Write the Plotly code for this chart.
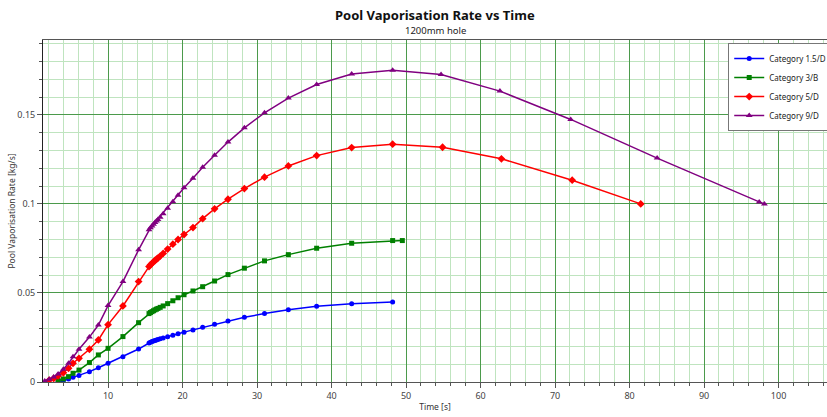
import plotly.graph_objects as go

# ---- data ----
t_blue = [3.3, 4.0, 4.7, 5.3, 6.1, 7.5, 8.7, 10.0, 12.0, 14.1, 15.5, 15.7, 15.9, 16.1, 16.3, 16.5, 16.7,
          17.0, 17.4, 18.0, 18.7, 19.4, 20.2, 21.4, 22.7, 24.3, 26.1, 28.3, 31.0, 34.2, 38.0, 42.7, 48.2]
v_blue = [0.0002, 0.0008, 0.0017, 0.0026, 0.0037, 0.0058, 0.0080, 0.0105, 0.0142, 0.0185, 0.0219, 0.0223,
          0.0227, 0.0230, 0.0233, 0.0236, 0.0239, 0.0243, 0.0247, 0.0254, 0.0263, 0.0271, 0.0280, 0.0292,
          0.0307, 0.0324, 0.0343, 0.0363, 0.0384, 0.0406, 0.0425, 0.0440, 0.0449]

t_green = [3.3, 4.0, 4.7, 5.3, 6.1, 7.5, 8.7, 10.0, 12.0, 14.1, 15.5, 15.7, 15.9, 16.1, 16.3, 16.5, 16.7,
           17.0, 17.4, 18.0, 18.7, 19.4, 20.2, 21.4, 22.7, 24.3, 26.1, 28.3, 31.0, 34.2, 38.0, 42.7, 48.2, 49.5]
v_green = [0.0008, 0.0017, 0.0030, 0.0049, 0.0067, 0.0109, 0.0152, 0.0189, 0.0255, 0.0333, 0.0384, 0.0390,
           0.0395, 0.0400, 0.0405, 0.0409, 0.0413, 0.0419, 0.0427, 0.0440, 0.0456, 0.0473, 0.0490, 0.0511,
           0.0535, 0.0567, 0.0603, 0.0639, 0.0680, 0.0715, 0.0751, 0.0779, 0.0794, 0.0794]

t_red = [2.1, 2.7, 3.3, 4.0, 4.7, 5.3, 6.1, 7.5, 8.7, 10.0, 12.0, 14.1, 15.5, 15.7, 15.9, 16.1, 16.3, 16.5,
         16.7, 17.0, 17.4, 18.0, 18.7, 19.4, 20.2, 21.4, 22.7, 24.3, 26.1, 28.3, 31.0, 34.2, 38.0, 42.7,
         48.2, 54.9, 62.8, 72.3, 81.5]
v_red = [0.0010, 0.0020, 0.0034, 0.0052, 0.0077, 0.0105, 0.0133, 0.0184, 0.0236, 0.0322, 0.0427, 0.0564,
         0.0648, 0.0658, 0.0666, 0.0674, 0.0682, 0.0689, 0.0696, 0.0707, 0.0722, 0.0746, 0.0774, 0.0800,
         0.0828, 0.0867, 0.0917, 0.0972, 0.1026, 0.1086, 0.1150, 0.1213, 0.1271, 0.1316, 0.1335, 0.1318,
         0.1253, 0.1133, 0.1000]

t_purple = [1.5, 2.1, 2.7, 3.3, 4.0, 4.7, 5.3, 6.1, 7.5, 8.7, 10.0, 12.0, 14.1, 15.5, 15.7, 15.9, 16.1,
            16.3, 16.5, 16.7, 17.0, 17.4, 18.0, 18.7, 19.4, 20.2, 21.4, 22.7, 24.3, 26.1, 28.3, 31.0, 34.2,
            38.0, 42.7, 48.2, 54.7, 62.6, 72.1, 83.7, 97.4, 98.1]
v_purple = [0.0006, 0.0015, 0.0028, 0.0045, 0.0071, 0.0105, 0.0142, 0.0184, 0.0252, 0.0320, 0.0429, 0.0564,
            0.0742, 0.0855, 0.0866, 0.0876, 0.0886, 0.0895, 0.0904, 0.0912, 0.0925, 0.0945, 0.0975, 0.1012,
            0.1048, 0.1090, 0.1144, 0.1206, 0.1273, 0.1347, 0.1427, 0.1511, 0.1594, 0.1670, 0.1729, 0.1750,
            0.1726, 0.1633, 0.1474, 0.1257, 0.1011, 0.1000]

series = [
    ("Category 1.5/D", t_blue, v_blue, "#0000ff", "circle", 5),
    ("Category 3/B", t_green, v_green, "#008000", "square", 5),
    ("Category 5/D", t_red, v_red, "#ff0000", "diamond", 6),
    ("Category 9/D", t_purple, v_purple, "#800080", "triangle-up", 6),
]

x_range = [1.27, 106.5]
y_range = [0, 0.192]

FONT = "Noto Sans"

fig = go.Figure()
for name, t, v, col, sym, ms in series:
    fig.add_trace(go.Scatter(
        x=t, y=v, name=name, mode="lines+markers",
        line=dict(color=col, width=1.5),
        marker=dict(symbol=sym, size=ms, color=col),
    ))

major_grid = "#4b9a4b"
minor_grid = "#bfe4bf"

fig.update_layout(
    width=827, height=417,
    margin=dict(l=43, r=0, t=40, b=35, autoexpand=False),
    paper_bgcolor="white", plot_bgcolor="white",
    font=dict(family=FONT, size=9, color="#333333"),
    showlegend=True,
    legend=dict(
        x=0.874, y=0.991, xanchor="left", yanchor="top",
        bgcolor="white", bordercolor="#777777", borderwidth=1,
        font=dict(family=FONT, size=8, color="#222222"),
        tracegroupgap=0, itemwidth=30,
    ),
    xaxis=dict(
        range=x_range, dtick=10, tick0=0,
        showgrid=True, gridcolor=major_grid, gridwidth=1.3,
        showline=True, linecolor="#555555", linewidth=1, mirror=True,
        ticks="outside", ticklen=5, tickcolor="#555555",
        zeroline=False,
        minor=dict(dtick=2, tick0=0, showgrid=True, gridcolor=minor_grid, gridwidth=1,
                   ticks="outside", ticklen=3, tickcolor="#555555"),
        title=dict(text="Time [s]", font=dict(size=8.5, color="#333333"), standoff=3),
        tickfont=dict(size=9, color="#444444"),
    ),
    yaxis=dict(
        range=y_range, dtick=0.05, tick0=0,
        showgrid=True, gridcolor=major_grid, gridwidth=1.3,
        showline=True, linecolor="#222222", linewidth=1,
        ticks="outside", ticklen=5, tickcolor="#555555",
        zeroline=False,
        minor=dict(dtick=0.01, tick0=0, showgrid=True, gridcolor=minor_grid, gridwidth=1,
                   ticks="outside", ticklen=3, tickcolor="#555555"),
        title=dict(text="Pool Vaporisation Rate [kg/s]", font=dict(size=8.5, color="#333333"), standoff=0),
        tickfont=dict(size=9, color="#444444"),
    ),
    annotations=[
        dict(text="<b>Pool Vaporisation Rate vs Time</b>", xref="paper", yref="paper",
             x=0.5, y=1.0, yshift=25, xanchor="center", yanchor="middle", showarrow=False,
             font=dict(family=FONT, size=13, color="#111111")),
        dict(text="1200mm hole", xref="paper", yref="paper",
             x=0.5, y=1.0, yshift=10, xanchor="center", yanchor="middle", showarrow=False,
             font=dict(family=FONT, size=9.5, color="#222222")),
    ],
)

fig.write_html("out.html", config={"displayModeBar": False},
               post_script="document.body.style.margin='0';document.body.style.overflow='hidden';")
